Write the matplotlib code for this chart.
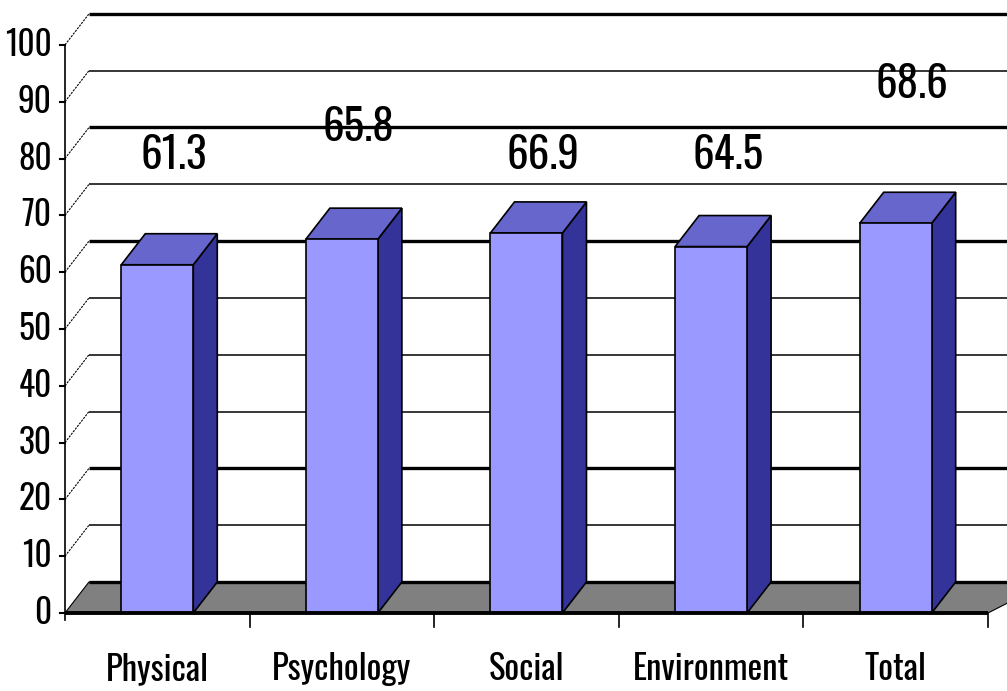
import matplotlib
matplotlib.use("Agg")
import matplotlib.pyplot as plt
from matplotlib.patches import Polygon, Rectangle

plt.rcParams['font.family'] = ['Oswald', 'DejaVu Sans']

# data
categories = ['Physical', 'Psychology', 'Social', 'Environment', 'Total']
scores = [61.3, 65.8, 66.9, 64.5, 68.6]
y_ticks = [0, 10, 20, 30, 40, 50, 60, 70, 80, 90, 100]

# label heights (value units) and gridline weights
label_y = [80.6, 85.4, 80.6, 80.5, 93.0]
grid_lw = {0: 2.4, 10: 1.1, 20: 2.4, 30: 1.1, 40: 1.1, 50: 1.1,
           60: 2.4, 70: 1.1, 80: 2.4, 90: 1.1, 100: 2.4}

front_c = '#9999FF'
top_c = '#6666CC'
side_c = '#333399'
floor_c = '#808080'

# depth of the 3d box in data units
dx = 0.13
dy = 5.46
bar_w = 0.39
n = len(categories)

fig = plt.figure(figsize=(10.07, 6.91), dpi=100)
ax = fig.add_axes([0, 0, 1, 1])
ax.set_xlim(-0.852, 4.603)
ax.set_ylim(-13.73, 107.9)
ax.axis('off')

x_left = -0.5
x_right = n - 0.5
x_end = 4.603

# back wall gridlines
for v in y_ticks[1:]:
    ax.plot([x_left + dx, x_end], [v + dy, v + dy], color='black',
            lw=grid_lw[v], solid_capstyle='butt', zorder=1)
    # side wall lines
    ax.plot([x_left, x_left + dx], [v, v + dy], color='black', lw=0.8,
            ls=(0, (2, 1)), zorder=1)

# floor
floor = Polygon([(x_left, 0), (x_left + dx, dy), (x_right + dx + 0.2, dy),
                 (x_right, 0)], closed=True, facecolor=floor_c,
                edgecolor='black', lw=0.8, zorder=2)
ax.add_patch(floor)
ax.plot([x_left + dx, x_end], [dy, dy], color='black', lw=grid_lw[0],
        solid_capstyle='butt', zorder=2)

# bars
for i, v in enumerate(scores):
    l = i - bar_w / 2
    r = i + bar_w / 2
    side = Polygon([(r, 0), (r + dx, dy), (r + dx, v + dy), (r, v)],
                   closed=True, facecolor=side_c, edgecolor='black', lw=1.2, zorder=3)
    top = Polygon([(l, v), (l + dx, v + dy), (r + dx, v + dy), (r, v)],
                  closed=True, facecolor=top_c, edgecolor='black', lw=1.2, zorder=3)
    front = Rectangle((l, 0), bar_w, v, facecolor=front_c, edgecolor='black',
                      lw=1.2, zorder=4)
    ax.add_patch(side)
    ax.add_patch(top)
    ax.add_patch(front)
    ax.text(i + 0.09, label_y[i], f'{v:.1f}', ha='center', va='center',
            fontsize=31, zorder=5)

# value axis
ax.plot([x_left, x_left], [0, 100], color='black', lw=1.2, zorder=5)
ax.plot([x_left, x_left], [0, -1.2], color='black', lw=1.2, zorder=5)
for v in y_ticks:
    ax.plot([x_left - 0.025, x_left], [v, v], color='black', lw=1.5, zorder=5)
    ax.text(-0.572, v, str(v), ha='right', va='center', fontsize=24)

# category axis
ax.plot([x_left, x_right], [0, 0], color='black', lw=2.8,
        solid_capstyle='butt', zorder=5)
for k in range(1, n + 1):
    ax.plot([x_left + k, x_left + k], [0, -2.4], color='black', lw=1.2, zorder=5)
for i, c in enumerate(categories):
    ax.text(i, -9.9, c, ha='center', va='center', fontsize=25)

fig.savefig('out.png', dpi=100, facecolor='white')
